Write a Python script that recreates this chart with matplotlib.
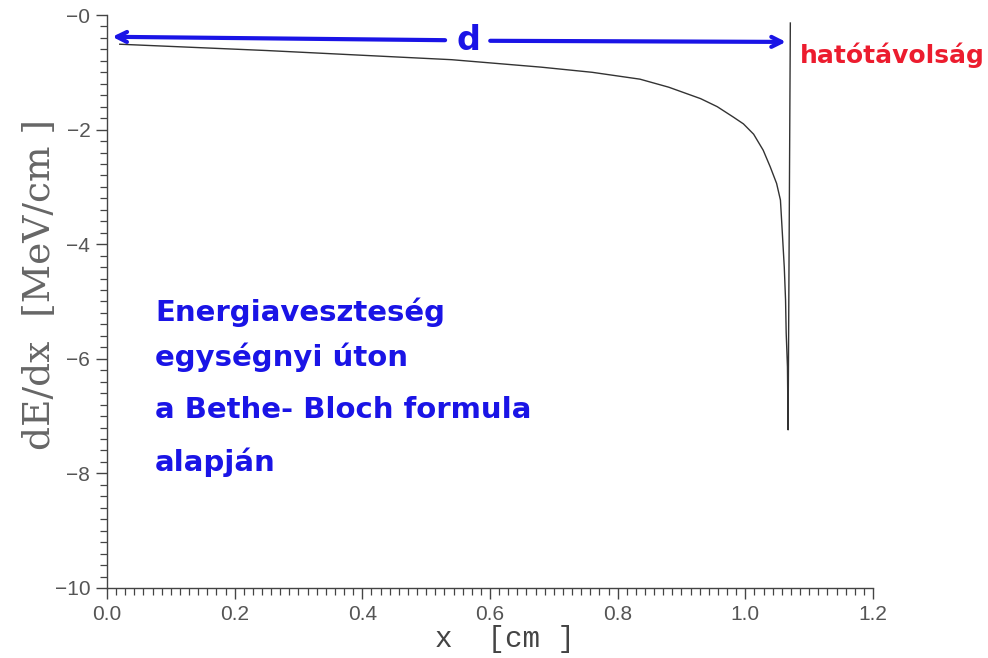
import matplotlib
matplotlib.use("Agg")
import matplotlib.pyplot as plt
from matplotlib.ticker import MultipleLocator, AutoMinorLocator

# curve (x in cm, dE/dx in MeV/cm)
x_cm = [0.02, 0.25, 0.54, 0.68, 0.76, 0.835, 0.88, 0.93, 0.956, 0.981, 0.997, 1.013, 1.028, 1.039,
        1.049, 1.055, 1.058, 1.061, 1.063, 1.064, 1.066, 1.0665, 1.067, 1.0705]
dedx = [-0.51, -0.62, -0.78, -0.91, -1.00, -1.12, -1.26, -1.46, -1.60, -1.78, -1.90, -2.08, -2.36, -2.65,
        -2.94, -3.23, -3.81, -4.40, -4.97, -5.55, -6.14, -6.72, -7.24, -0.14]

xtick_vals = [0.0, 0.2, 0.4, 0.6, 0.8, 1.0, 1.2]
xtick_labels = ['0.0', '0.2', '0.4', '0.6', '0.8', '1.0', '1.2']
ytick_vals = [-10, -8, -6, -4, -2, 0]
ytick_labels = ['\u221210', '\u22128', '\u22126', '\u22124', '\u22122', '\u22120']

note_lines = ['Energiaveszteség', 'egységnyi úton', 'a Bethe- Bloch formula', 'alapján']
note_y = [-5.18, -5.97, -6.89, -7.80]
range_label = 'hatótávolság'

fig = plt.figure(figsize=(9.88, 6.58), dpi=100)
ax = fig.add_axes([0.1083, 0.1064, 0.7753, 0.8708])

ax.plot(x_cm, dedx, color='#333333', lw=1.0)

ax.set_xlim(0, 1.2)
ax.set_ylim(-10, 0)
for s in ['top', 'right']:
    ax.spines[s].set_visible(False)
for s in ['left', 'bottom']:
    ax.spines[s].set_color('#444444')
    ax.spines[s].set_linewidth(1.0)

ax.set_xticks(xtick_vals)
ax.set_xticklabels(xtick_labels)
ax.set_yticks(ytick_vals)
ax.set_yticklabels(ytick_labels)
ax.xaxis.set_minor_locator(AutoMinorLocator(14))
ax.yaxis.set_minor_locator(MultipleLocator(0.2))
ax.tick_params(which='major', direction='out', length=8, width=1.0, color='#444444',
               labelsize=15, labelcolor='#555555', pad=4)
ax.tick_params(which='minor', direction='out', length=5, width=0.9, color='#444444')
for lab in ax.get_xticklabels() + ax.get_yticklabels():
    lab.set_family('Liberation Sans')

ax.set_xlabel('x  [cm ]', family='Liberation Mono', fontsize=21, color='#444444')
ax.xaxis.set_label_coords(0.52, -0.065)
ax.set_ylabel('dE/dx  [MeV/cm ]', family='DejaVu Serif', fontsize=27, color='#666666')
ax.yaxis.set_label_coords(-0.088, 0.53)
ax.yaxis.label.set_va('center')

# hand drawn range arrow
blue = '#1a14e6'
ax.annotate('', xy=(0.004, -0.38), xytext=(0.534, -0.44),
            arrowprops=dict(arrowstyle='->', color=blue, lw=3, mutation_scale=18))
ax.annotate('', xy=(1.068, -0.47), xytext=(0.596, -0.45),
            arrowprops=dict(arrowstyle='->', color=blue, lw=3, mutation_scale=18))
ax.text(0.566, -0.45, 'd', color=blue, fontsize=24, fontweight='bold', ha='center', va='center')

ax.text(1.086, -0.70, range_label, color='#ec1c2e', fontsize=18, fontweight='bold',
        ha='left', va='center', clip_on=False)

for line, yy in zip(note_lines, note_y):
    ax.text(0.075, yy, line, color=blue, fontsize=21, fontweight='bold', ha='left', va='center')

fig.savefig('out.png', dpi=100)
